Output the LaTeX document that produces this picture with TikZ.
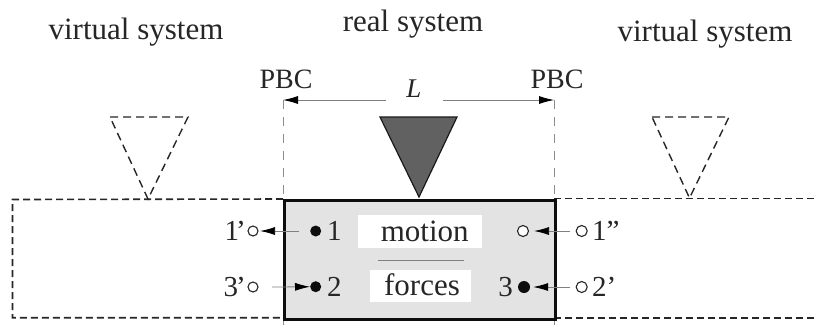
\documentclass[tikz,border=0pt]{standalone}
\usepackage{fontspec}
\setmainfont{Liberation Serif}
\usetikzlibrary{arrows.meta}
\tikzset{
  x=1pt,y=-1pt,
  lab/.style={inner sep=0pt,anchor=base west,font=\fontsize{29}{34}\selectfont,text=black!85},
  pbc/.style={inner sep=0pt,anchor=base,font=\fontsize{28}{34}\selectfont,text=black!85},
  title/.style={inner sep=0pt,anchor=base,font=\fontsize{31}{36}\selectfont,text=black!85},
  wbox/.style={fill=white,inner sep=0pt},
  wtxt/.style={inner sep=0pt,anchor=base,font=\fontsize{31}{36}\selectfont,text=black!85},
  virt/.style={draw=black!85,line width=1.6pt,dash pattern=on 7pt off 4pt},
  vtri/.style={draw=black!85,line width=1.4pt,dash pattern=on 8pt off 5pt,line join=miter},
  guide/.style={draw=black!45,line width=.8pt,dash pattern=on 9pt off 8pt},
  arr/.style={draw=black!50,line width=.8pt,-{Latex[length=15pt,width=8pt,black]}},
  solidpt/.style={circle,fill=black!95,inner sep=0pt,minimum size=11pt},
  openpt/.style={circle,draw=black!85,fill=white,line width=1.1pt,inner sep=0pt,minimum size=10pt},
}
\begin{document}
\begin{tikzpicture}
\useasboundingbox[fill=white] (0,0) rectangle (818,325);
% virtual system outline
\coordinate (bl) at (283,317.7);
\coordinate (tl) at (283,199);
\coordinate (br) at (554,317.7);
\coordinate (tr) at (554,198.5);
\coordinate (farTL) at (12.5,199.5);
\coordinate (farBL) at (12.5,317.7);
\coordinate (farTR) at (818,198.5);
\coordinate (farBR) at (818,317.7);
\draw[virt] (tl) -- (farTL) -- (farBL) -- (bl);
\draw[virt] (tr) -- (farTR);
\draw[virt] (br) -- (farBR);
% PBC guides
\coordinate (Lc) at (283,100);
\coordinate (Ld) at (554,100);
\draw[guide] (Lc) -- (tl);
\draw[guide] (Ld) -- (tr);
\draw[draw=black!45,line width=.8pt] (bl) -- (283,325);
\draw[draw=black!45,line width=.8pt] (br) -- (554,325);
% real box
\node[draw=black!95,line width=3pt,fill=black!11,minimum width=271pt,minimum height=119pt,inner sep=0pt,anchor=north west] (box) at (283,198.5) {};
% indenter
\draw[black!90,line width=1.2pt,fill=black!62] (380,117) -- (457,117) -- (419,197) -- cycle;
% virtual indenters
\draw[vtri] (110,117) -- (188,117) -- (148,199) -- cycle;
\draw[vtri] (652,117) -- (729,117) -- (689.5,198) -- cycle;
% titles
\node[title] (vl) at (136,39.5) {virtual system};
\node[title] (rs) at (413,31) {real system};
\node[title] (vr) at (705,41.7) {virtual system};
\node[pbc] (pl) at (286,88) {PBC};
\node[pbc] (pr) at (557,88) {PBC};
\node[pbc,font=\fontsize{27}{32}\selectfont\itshape] (L) at (414,97) {L};
\coordinate (La) at (386,100);
\coordinate (Lb) at (443,100);
\draw[arr] (La) -- (Lc);
\draw[arr] (Lb) -- (Ld);
% center texts
\node[wbox,minimum width=124pt,minimum height=33pt] (mo) at (420,231.5) {};
\node[wtxt] (mot) at (424.7,241.5) {motion};
\node[wbox,minimum width=101pt,minimum height=32pt] (fo) at (420.5,286) {};
\node[wtxt] (fot) at (422,295.5) {forces};
\coordinate (sa) at (378,260.7);
\coordinate (sb) at (464,260.7);
\draw[black!50,line width=1.2pt] (sa) -- (sb);
% atoms
\node[solidpt] (a1) at (315.7,231) {};
\node[lab] (t1) at (327,240.5) {1};
\node[solidpt] (a2) at (315.7,286.7) {};
\node[lab] (t2) at (327,296.7) {2};
\node[openpt] (o1p) at (253,231) {};
\node[lab,anchor=base east] (t1p) at (246,240.5) {1\kern-3pt’};
\node[openpt] (o3p) at (253,287) {};
\node[lab,anchor=base east] (t3p) at (246,296.7) {3\kern-2pt’};
\node[openpt,minimum size=11pt] (o1r) at (523,231) {};
\node[solidpt,minimum size=12pt] (a3) at (524,287) {};
\node[lab,anchor=base east] (t3) at (513,296.7) {3};
\node[openpt,minimum size=11pt] (o1pp) at (581.7,231) {};
\node[lab] (t1pp) at (592,240.5) {1”};
\node[openpt,minimum size=11pt] (o2p) at (581.7,287) {};
\node[lab] (t2p) at (592,296.7) {2’};
% arrows
\coordinate (s1) at (299,231);
\coordinate (s3) at (272,287);
\coordinate (s1r) at (570,231);
\coordinate (s2r) at (570,287);
\draw[arr,shorten >=1.5pt] (s1) -- (o1p);
\draw[arr] (s3) -- (a2);
\draw[arr,shorten >=5pt] (s1r) -- (o1r);
\draw[arr,shorten >=3pt] (s2r) -- (a3);
\end{tikzpicture}
\end{document}
